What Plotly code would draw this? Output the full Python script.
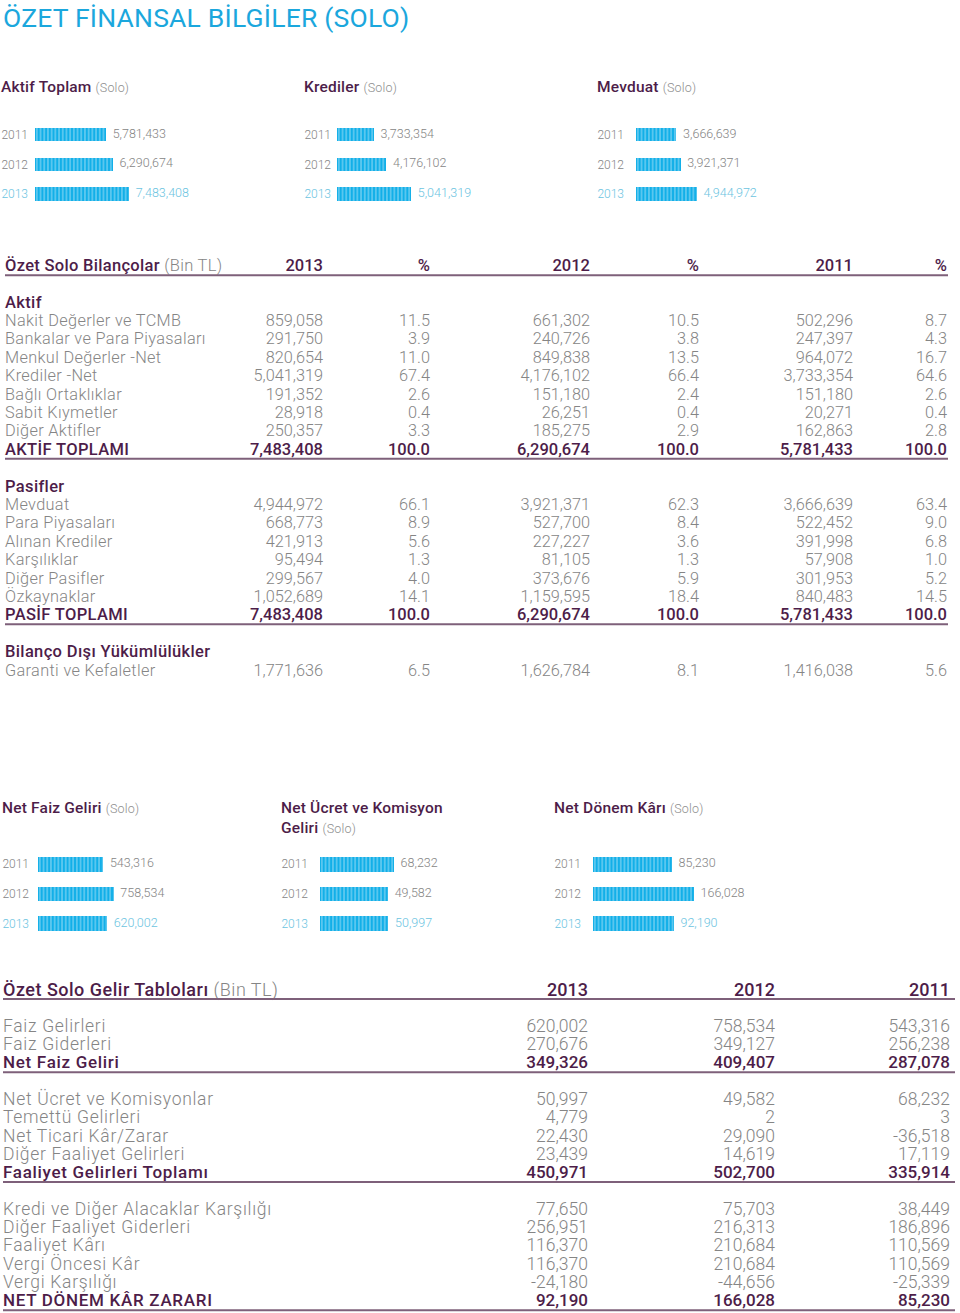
import plotly.graph_objects as go

W, H = 960, 1313

# ---------------- data ----------------
years = ["2011", "2012", "2013"]
aktif_toplam = [5781433, 6290674, 7483408]
krediler = [3733354, 4176102, 5041319]
mevduat = [3666639, 3921371, 4944972]
net_faiz = [543316, 758534, 620002]
net_ucret = [68232, 49582, 50997]
net_donem = [85230, 166028, 92190]

bs_header = ["2013", "%", "2012", "%", "2011", "%"]
aktif_labels = ["Nakit Değerler ve TCMB", "Bankalar ve Para Piyasaları", "Menkul Değerler -Net",
                "Krediler -Net", "Bağlı Ortaklıklar", "Sabit Kıymetler", "Diğer Aktifler"]
aktif_2013 = [859058, 291750, 820654, 5041319, 191352, 28918, 250357]
aktif_2013_pct = [11.5, 3.9, 11.0, 67.4, 2.6, 0.4, 3.3]
aktif_2012 = [661302, 240726, 849838, 4176102, 151180, 26251, 185275]
aktif_2012_pct = [10.5, 3.8, 13.5, 66.4, 2.4, 0.4, 2.9]
aktif_2011 = [502296, 247397, 964072, 3733354, 151180, 20271, 162863]
aktif_2011_pct = [8.7, 4.3, 16.7, 64.6, 2.6, 0.4, 2.8]
aktif_total = [7483408, 6290674, 5781433]
aktif_total_pct = [100.0, 100.0, 100.0]

pasif_labels = ["Mevduat", "Para Piyasaları", "Alınan Krediler", "Karşılıklar",
                "Diğer Pasifler", "Özkaynaklar"]
pasif_2013 = [4944972, 668773, 421913, 95494, 299567, 1052689]
pasif_2013_pct = [66.1, 8.9, 5.6, 1.3, 4.0, 14.1]
pasif_2012 = [3921371, 527700, 227227, 81105, 373676, 1159595]
pasif_2012_pct = [62.3, 8.4, 3.6, 1.3, 5.9, 18.4]
pasif_2011 = [3666639, 522452, 391998, 57908, 301953, 840483]
pasif_2011_pct = [63.4, 9.0, 6.8, 1.0, 5.2, 14.5]
pasif_total = [7483408, 6290674, 5781433]
pasif_total_pct = [100.0, 100.0, 100.0]

bd_labels = ["Garanti ve Kefaletler"]
bd_2013 = [1771636]
bd_2013_pct = [6.5]
bd_2012 = [1626784]
bd_2012_pct = [8.1]
bd_2011 = [1416038]
bd_2011_pct = [5.6]

is_header = ["2013", "2012", "2011"]
g1_labels = ["Faiz Gelirleri", "Faiz Giderleri"]
g1_2013 = [620002, 270676]
g1_2012 = [758534, 349127]
g1_2011 = [543316, 256238]
g1_total = [349326, 409407, 287078]
g2_labels = ["Net Ücret ve Komisyonlar", "Temettü Gelirleri", "Net Ticari Kâr/Zarar",
             "Diğer Faaliyet Gelirleri"]
g2_2013 = [50997, 4779, 22430, 23439]
g2_2012 = [49582, 2, 29090, 14619]
g2_2011 = [68232, 3, -36518, 17119]
g2_total = [450971, 502700, 335914]
g3_labels = ["Kredi ve Diğer Alacaklar Karşılığı", "Diğer Faaliyet Giderleri", "Faaliyet Kârı",
             "Vergi Öncesi Kâr", "Vergi Karşılığı"]
g3_2013 = [77650, 256951, 116370, 116370, -24180]
g3_2012 = [75703, 216313, 210684, 210684, -44656]
g3_2011 = [38449, 186896, 110569, 110569, -25339]
g3_total = [92190, 166028, 85230]

# ---------------- style ----------------
FONT = "Roboto"
C_TITLE = "#1ba7dd"
C_HEAD = "#4d1d49"
C_TEXT = "#858585"
C_SOLO = "#8e8e8e"
C_LINE = "#7e607a"
C_BAR = "#12afe8"
C_2013 = "#6cc4df"
VOFF = 1.5  # text vertical centring correction

fig = go.Figure()
layout = {}
shapes = []


def fx(px):
    return px / W


def fy(py):
    return 1 - py / H


def fmt(v):
    return f"{v:,}"


def fpct(p):
    return f"{p:.1f}"


def spaced(t, ls):
    return f"<span style='letter-spacing:{ls}px'>{t}</span>"


def add_text(xs, ys, texts, pos, size, color, weight=300):
    fig.add_trace(go.Scatter(
        x=xs, y=[y + VOFF for y in ys], text=texts, mode="text", textposition=pos,
        textfont=dict(family=FONT, size=size, color=color, weight=weight),
        xaxis="x", yaxis="y", hoverinfo="skip", showlegend=False, cliponaxis=False))


# ---------------- title ----------------
add_text([3], [18.5], [spaced("ÖZET FİNANSAL BİLGİLER (SOLO)", 0.2)], "middle right", 26.5, C_TITLE, 400)

# ---------------- mini bar charts ----------------
solo = "<span style='font-size:12.5px;font-weight:300;color:%s'>(Solo)</span>" % C_SOLO
minis = [
    # title, values, header x, header y, bar x0, first row y, step, axis start, px per unit, bar width, label gap
    ("Aktif Toplam " + solo, aktif_toplam, 1, 87, 35, 134.5, 29.8, 0.52e6, 13.5e-6, 0.45, 6),
    ("Krediler " + solo, krediler, 304, 87, 337, 134.5, 29.8, 2.44e6, 28.5e-6, 0.45, 5),
    ("Mevduat " + solo, mevduat, 597, 87, 636, 134.5, 29.8, 1.12e6, 15.9e-6, 0.45, 11),
    ("Net Faiz Geliri " + solo, net_faiz, 2, 808, 38, 864.2, 29.8, -0.806e6, 48.4e-6, 0.5, 8),
    ("Net Ücret ve Komisyon<br>Geliri " + solo, net_ucret, 281, 818, 320, 864.2, 29.8, -163e3, 0.32e-3, 0.5, 11),
    ("Net Dönem Kârı " + solo, net_donem, 554, 808, 593, 864.2, 29.8, -205e3, 0.272e-3, 0.5, 11),
]

SPAN = 230
for i, (title, vals, hx, hy, x0, ry0, step, base, ppu, bw, gap) in enumerate(minis):
    k = i + 2
    xa, ya = f"x{k}", f"y{k}"
    add_text([hx], [hy], [spaced(title, 0.2)], "middle right", 15.5, C_HEAD, 500)
    fig.add_trace(go.Bar(
        x=[v - base for v in vals], base=base, y=years, orientation="h", width=bw,
        marker=dict(color=C_BAR, line=dict(width=0),
                    pattern=dict(shape="|", fgcolor="white", bgcolor=C_BAR, size=3.7, solidity=0.3)),
        xaxis=xa, yaxis=ya, hoverinfo="skip", showlegend=False))
    fig.add_trace(go.Scatter(
        x=vals, y=years, mode="markers+text", text=[fmt(v) for v in vals], textposition="middle right",
        marker=dict(size=9, color="rgba(0,0,0,0)"),
        textfont=dict(family=FONT, size=12.5, weight=300, color=[C_TEXT, C_TEXT, C_2013]),
        xaxis=xa, yaxis=ya, hoverinfo="skip", showlegend=False, cliponaxis=False))
    top = ry0 - step / 2
    bot = top + 3 * step
    layout[f"xaxis{k}"] = dict(domain=[fx(x0), fx(x0 + SPAN)], range=[base, base + SPAN / ppu],
                               visible=False, fixedrange=True, anchor=ya, automargin=False)
    layout[f"yaxis{k}"] = dict(
        domain=[fy(bot), fy(top)], type="category", categoryorder="array",
        categoryarray=years, autorange="reversed", anchor=xa, showgrid=False, zeroline=False,
        showline=False, ticks="", tickvals=years, automargin=False,
        ticktext=[years[0], years[1], f"<span style='color:{C_2013}'>{years[2]}</span>"],
        tickfont=dict(family=FONT, size=12, color=C_TEXT, weight=300),
        ticklabelstandoff=gap, fixedrange=True)

# ---------------- balance sheet table ----------------
T1_X = 5
T1_COLS = [323, 430, 590, 699, 853, 947]
T1_ROW0, T1_RH = 302, 18.4
T1_BODY, T1_HEAD = 16.3, 16.5
T1_LS = 0.35

body_lx, body_ly, body_lt = [], [], []
body_vx, body_vy, body_vt = [], [], []
bold_lx, bold_ly, bold_lt = [], [], []
bold_vx, bold_vy, bold_vt = [], [], []


def t1_section(r, name, labels, c13, p13, c12, p12, c11, p11, total_name=None, tot=None, totp=None):
    y = T1_ROW0 + r * T1_RH
    bold_lx.append(T1_X); bold_ly.append(y); bold_lt.append(spaced(name, T1_LS))
    r += 1
    for j, lab in enumerate(labels):
        y = T1_ROW0 + r * T1_RH
        body_lx.append(T1_X); body_ly.append(y); body_lt.append(spaced(lab, T1_LS))
        vals = [fmt(c13[j]), fpct(p13[j]), fmt(c12[j]), fpct(p12[j]), fmt(c11[j]), fpct(p11[j])]
        for cx, v in zip(T1_COLS, vals):
            body_vx.append(cx); body_vy.append(y); body_vt.append(v)
        r += 1
    if total_name:
        y = T1_ROW0 + r * T1_RH
        bold_lx.append(T1_X); bold_ly.append(y); bold_lt.append(spaced(total_name, T1_LS))
        vals = [fmt(tot[0]), fpct(totp[0]), fmt(tot[1]), fpct(totp[1]), fmt(tot[2]), fpct(totp[2])]
        for cx, v in zip(T1_COLS, vals):
            bold_vx.append(cx); bold_vy.append(y); bold_vt.append(v)
        shapes.append(dict(type="line", xref="x", yref="y", x0=T1_X, x1=948, y0=y + 9.5, y1=y + 9.5,
                           line=dict(color=C_LINE, width=2)))
        r += 1
    return r + 1


r = 0
r = t1_section(r, "Aktif", aktif_labels, aktif_2013, aktif_2013_pct, aktif_2012, aktif_2012_pct,
               aktif_2011, aktif_2011_pct, "AKTİF TOPLAMI", aktif_total, aktif_total_pct)
r = t1_section(r, "Pasifler", pasif_labels, pasif_2013, pasif_2013_pct, pasif_2012, pasif_2012_pct,
               pasif_2011, pasif_2011_pct, "PASİF TOPLAMI", pasif_total, pasif_total_pct)
r = t1_section(r, "Bilanço Dışı Yükümlülükler", bd_labels, bd_2013, bd_2013_pct, bd_2012, bd_2012_pct,
               bd_2011, bd_2011_pct)

add_text(body_lx, body_ly, body_lt, "middle right", T1_BODY, C_TEXT, 300)
add_text(body_vx, body_vy, body_vt, "middle left", T1_BODY, C_TEXT, 300)
add_text(bold_lx, bold_ly, bold_lt, "middle right", T1_BODY + 0.2, C_HEAD, 500)
add_text(bold_vx, bold_vy, bold_vt, "middle left", T1_BODY + 0.2, C_HEAD, 500)

hy1 = T1_ROW0 - 2 * T1_RH
add_text([T1_X], [hy1], [spaced("Özet Solo Bilançolar <span style='font-weight:300;color:%s'>(Bin TL)</span>" % C_TEXT, 0.3)],
         "middle right", T1_HEAD, C_HEAD, 500)
add_text(T1_COLS, [hy1] * 6, bs_header, "middle left", T1_HEAD, C_HEAD, 500)
shapes.append(dict(type="line", xref="x", yref="y", x0=T1_X, x1=948, y0=hy1 + 10, y1=hy1 + 10,
                   line=dict(color=C_LINE, width=2)))

# ---------------- income statement table ----------------
T2_X = 3
T2_COLS = [588, 775, 950]
T2_ROW0, T2_RH = 1026, 18.3
T2_BODY, T2_HEAD = 17.5, 18
T2_LS = 0.7

b2_lx, b2_ly, b2_lt, b2_vx, b2_vy, b2_vt = [], [], [], [], [], []
k2_lx, k2_ly, k2_lt, k2_vx, k2_vy, k2_vt = [], [], [], [], [], []


def t2_block(r, labels, c13, c12, c11, total_name, tot):
    for j, lab in enumerate(labels):
        y = T2_ROW0 + r * T2_RH
        b2_lx.append(T2_X); b2_ly.append(y); b2_lt.append(spaced(lab, T2_LS))
        for cx, v in zip(T2_COLS, [c13[j], c12[j], c11[j]]):
            b2_vx.append(cx); b2_vy.append(y); b2_vt.append(fmt(v))
        r += 1
    y = T2_ROW0 + r * T2_RH
    k2_lx.append(T2_X); k2_ly.append(y); k2_lt.append(spaced(total_name, T2_LS))
    for cx, v in zip(T2_COLS, tot):
        k2_vx.append(cx); k2_vy.append(y); k2_vt.append(fmt(v))
    shapes.append(dict(type="line", xref="x", yref="y", x0=T2_X, x1=955, y0=y + 9.7, y1=y + 9.7,
                       line=dict(color=C_LINE, width=2)))
    return r + 2


r = 0
r = t2_block(r, g1_labels, g1_2013, g1_2012, g1_2011, "Net Faiz Geliri", g1_total)
r = t2_block(r, g2_labels, g2_2013, g2_2012, g2_2011, "Faaliyet Gelirleri Toplamı", g2_total)
r = t2_block(r, g3_labels, g3_2013, g3_2012, g3_2011, "NET DÖNEM KÂR ZARARI", g3_total)

add_text(b2_lx, b2_ly, b2_lt, "middle right", T2_BODY, C_TEXT, 300)
add_text(b2_vx, b2_vy, b2_vt, "middle left", T2_BODY, C_TEXT, 300)
add_text(k2_lx, k2_ly, k2_lt, "middle right", T2_BODY - 0.5, C_HEAD, 500)
add_text(k2_vx, k2_vy, k2_vt, "middle left", T2_BODY - 0.5, C_HEAD, 500)

hy2 = 989.5
add_text([T2_X], [hy2], [spaced("Özet Solo Gelir Tabloları <span style='font-weight:300;color:%s'>(Bin TL)</span>" % C_TEXT, 0.5)],
         "middle right", T2_HEAD, C_HEAD, 500)
add_text(T2_COLS, [hy2] * 3, is_header, "middle left", T2_HEAD, C_HEAD, 500)
shapes.append(dict(type="line", xref="x", yref="y", x0=T2_X, x1=955, y0=hy2 + 9.5, y1=hy2 + 9.5,
                   line=dict(color=C_LINE, width=2)))

# ---------------- layout ----------------
fig.update_layout(
    width=W, height=H, margin=dict(l=0, r=0, t=0, b=0, pad=0, autoexpand=False),
    paper_bgcolor="white", plot_bgcolor="rgba(0,0,0,0)",
    showlegend=False, hovermode=False, bargap=0,
    font=dict(family=FONT, color=C_TEXT),
    xaxis=dict(domain=[0, 1], range=[0, W], visible=False, fixedrange=True, automargin=False),
    yaxis=dict(domain=[0, 1], range=[H, 0], visible=False, fixedrange=True, automargin=False),
    shapes=shapes,
    **layout,
)

# the page's default 8px body margin would push the fixed-size figure off the window
fig.write_html("out.html", config={"displayModeBar": False, "staticPlot": True},
               post_script="document.body.style.margin='0';")
